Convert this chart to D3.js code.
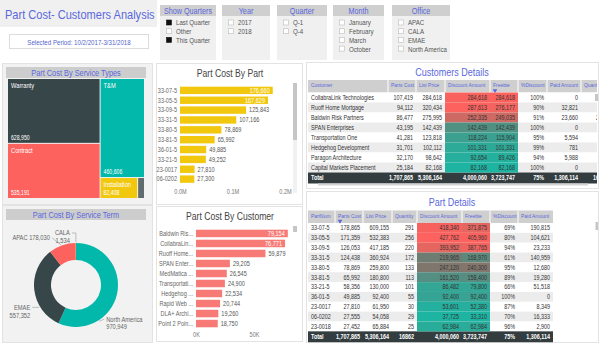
<!DOCTYPE html>
<html>
<head>
<meta charset="utf-8">
<script src="https://cdn.jsdelivr.net/npm/d3@7"></script>
<style>
  body { margin: 0; background: #fff; }
  svg { font-family: "Liberation Sans", Arial, sans-serif; display: block; }
</style>
</head>
<body>
<svg id="dash" width="600" height="343"></svg>
<script>
// ---- slicers ----
const quarterFlags = ["Last Quarter", "Other", "This Quarter"];
const quarterChecked = [true, false, true];
const years = ["2017", "2018"];
const quarters = ["Q-1", "Q-4"];
const months = ["January", "February", "March", "October"];
const offices = ["APAC", "CALA", "EMAE", "North America"];

// ---- part cost by service type (treemap) ----
const serviceTypes = ["Warranty", "Contract", "T&M", "Installation", "Other"];
const serviceCost = [628950, 535191, 460606, 82408, 15000];

// ---- part cost by part ----
const partLabels = ["33-07-5", "33-05-5", "33-09-5", "33-31-5", "33-80-5", "33-81-5", "36-01-5", "33-21-5", "23-0017", "06-0202"];
const partCost = [176660, 167629, 125843, 107166, 78869, 65992, 49885, 49252, 27810, 27300];

// ---- part cost by service term (office) ----
const officeNames = ["North America", "EMAE", "APAC", "CALA"];
const officeCost = [970949, 557352, 178030, 1534];

// ---- part cost by customer ----
const customerLabels = ["Baldwin Ris...", "CollabraLin...", "Ruoff Home...", "SPAN Enter...", "MedMatica ...", "Transportati...", "Hedgehog ...", "Rapid Web ...", "DLA+ Archi...", "Point 2 Poin..."];
const customerCost = [79154, 76771, 59879, 29205, 26545, 24900, 22534, 20744, 19260, 18750];

// ---- customers details ----
const custNames = ["CollabraLink Technologies", "Ruoff Home Mortgage", "Baldwin Risk Partners", "SPAN Enterprises", "Transportation One", "Hedgehog Development", "Paragon Architecture", "Capital Markets Placement"];
const custPartsCost = [107419, 94112, 86477, 43195, 41281, 31701, 32170, 25184];
const custListPrice = [284618, 320434, 275995, 142439, 123818, 102112, 98642, 82168];
const custDiscount = [284618, 287613, 252335, 142439, 118224, 101331, 92654, 82168];
const custFreebie = [284618, 276177, 249035, 142439, 115904, 101331, 89426, 82168];
const custPctDiscount = [1.00, 0.90, 0.91, 1.00, 0.95, 0.99, 0.94, 1.00];
const custPaid = [0, 32821, 23660, 0, 5594, 781, 5988, 0];
const custQty = [512, 474, 2391, 211, 204, 158, 161, 124];

// ---- part details ----
const partNums = ["33-07-5", "33-05-5", "33-09-5", "33-31-5", "33-80-5", "33-81-5", "33-21-5", "36-01-5", "23-0017", "06-0202", "23-0018"];
const pdPartsCost = [178865, 171359, 126053, 124438, 78869, 65992, 58356, 49885, 27810, 27555, 27452];
const pdListPrice = [609155, 532383, 417185, 360924, 259800, 180800, 130000, 92400, 61950, 54058, 65884];
const pdQty = [291, 256, 220, 172, 133, 113, 101, 55, 30, 29, 25];
const pdDiscount = [418340, 427762, 393952, 219965, 247120, 161520, 86482, 92400, 53601, 37725, 62984];
const pdFreebie = [371875, 405960, 387765, 168970, 240300, 158400, 79800, 92400, 52380, 33310, 62984];
const pdPctDiscount = [0.69, 0.80, 0.94, 0.61, 0.95, 0.89, 0.66, 1.00, 0.87, 0.70, 0.96];
const pdPaid = [190815, 104621, 23233, 140959, 12680, 19280, 51518, 0, 8349, 16333, 2900];

// totals shared by both detail tables
const totPartsCost = 1707865, totListPrice = 5306164, totDiscount = 4000060,
      totFreebie = 3723747, totPct = 0.75, totPaid = 1306114, totQty = 16862;

const C = { teal: "#01b8aa", dark: "#374649", coral: "#fd625e", yellow: "#f2c80f", grey: "#5f6b6d" };
const blue = "#5a68dc";
const fmt = d3.format(",");
const pct = d3.format(".0%");
const SX = 0.82;   // horizontal squeeze for the small dashboard text

const svg = d3.select("#dash");

// text squeezed horizontally so it sits like the narrow report font
function txt(parent, x, y, s, size, fill, opts = {}) {
  return parent.append("text")
    .attr("transform", `translate(${x},${y}) scale(${opts.sx || SX},1)`)
    .attr("text-anchor", opts.anchor || "start")
    .attr("font-size", size)
    .attr("font-weight", opts.bold ? "bold" : null)
    .attr("fill", fill)
    .text(s);
}

function panel(x, y, w, h, fill) {
  svg.append("rect").attr("x", x).attr("y", y).attr("width", w).attr("height", h)
    .attr("fill", fill).attr("stroke", "#e3e3e3");
}

function headerBar(x, y, w, label) {
  svg.append("rect").attr("x", x).attr("y", y).attr("width", w).attr("height", 11).attr("fill", "#cdcdcd");
  txt(svg, x + w / 2, y + 8.6, label, 9, blue, { anchor: "middle" });
}

// ---- title block ----
svg.append("rect").attr("x", 0).attr("y", 0).attr("width", 157).attr("height", 27).attr("fill", "#f0f0f0");
txt(svg, 5, 19, "Part Cost- Customers Analysis", 13, blue, { sx: 0.85 });
svg.append("rect").attr("x", 9.5).attr("y", 34.5).attr("width", 139).attr("height", 14)
  .attr("fill", "#fff").attr("stroke", "#dcdcdc");
txt(svg, 79, 44.5, "Selected Period: 10/2/2017-3/31/2018", 7.5, "#5566cc", { anchor: "middle" });

// ---- slicers ----
const slicers = [
  { title: "Show Quarters", items: quarterFlags, checked: quarterChecked, x: 160, w: 56 },
  { title: "Year", items: years, checked: [], x: 222, w: 48 },
  { title: "Quarter", items: quarters, checked: [], x: 277, w: 50 },
  { title: "Month", items: months, checked: [], x: 333, w: 51 },
  { title: "Office", items: offices, checked: [], x: 392, w: 58 }
];
slicers.forEach(s => {
  svg.append("rect").attr("x", s.x).attr("y", 5).attr("width", s.w).attr("height", 55).attr("fill", "#f0f0f0");
  svg.append("rect").attr("x", s.x).attr("y", 5).attr("width", s.w).attr("height", 11).attr("fill", "#cfcfcf");
  txt(svg, s.x + s.w / 2, 13.8, s.title, 8.8, blue, { anchor: "middle" });
  s.items.forEach((it, i) => {
    const cy = 23 + i * 8.7;
    const on = s.checked[i];
    svg.append("rect").attr("x", s.x + 6.5).attr("y", cy - 3).attr("width", 5).attr("height", 5)
      .attr("fill", on ? "#111" : "#fff").attr("stroke", on ? "#111" : "#bbb").attr("stroke-width", 0.6);
    txt(svg, s.x + 16, cy + 2.4, it, 7.5, "#555");
  });
});

// ---- treemap: part cost by service types ----
panel(2.5, 63.5, 150, 141, "#f2f2f2");
headerBar(6, 67, 140, "Part Cost By Service Types");
{
  const root = d3.hierarchy({ children: serviceTypes.map((n, i) => ({ name: n, value: serviceCost[i] })) })
    .sum(d => d.value || 0)
    .sort((a, b) => b.value - a.value);
  d3.treemap().tile(d3.treemapSquarify).size([136, 119]).paddingInner(1)(root);
  const colors = [C.dark, C.coral, C.teal, C.yellow, C.grey];
  const g = svg.append("g").attr("transform", "translate(8,79)");
  root.leaves().forEach(leaf => {
    const w = leaf.x1 - leaf.x0, h = leaf.y1 - leaf.y0;
    g.append("rect").attr("x", leaf.x0).attr("y", leaf.y0).attr("width", w).attr("height", h)
      .attr("fill", colors[serviceTypes.indexOf(leaf.data.name)]);
    if (w > 25 && h > 18) {
      txt(g, leaf.x0 + 3, leaf.y0 + 9, leaf.data.name, 7, "#fff");
      txt(g, leaf.x0 + 3, leaf.y1 - 3, fmt(leaf.data.value), 6.3, "#fff");
    }
  });
}

// ---- horizontal bar helper ----
function hbars(cfg) {
  const y = d3.scaleBand().domain(cfg.labels).range(cfg.yRange).paddingInner(0.25).paddingOuter(0.12);
  const x = d3.scaleLinear().domain(cfg.domain).range(cfg.xRange);
  const inside = d => x(d) - x(0) > cfg.inside;
  const g = svg.append("g");
  g.selectAll("rect.bar").data(cfg.values).join("rect")
    .attr("x", x(0)).attr("y", (d, i) => y(cfg.labels[i]))
    .attr("width", d => x(d) - x(0)).attr("height", y.bandwidth()).attr("fill", cfg.color);
  cfg.labels.forEach((lab, i) => {
    const cy = y(lab) + y.bandwidth() / 2 + 2.3;
    const v = cfg.values[i];
    txt(g, x(0) - 3, cy, lab, 6.8, "#666", { anchor: "end" });
    txt(g, inside(v) ? x(v) - 3 : x(v) + 3, cy, fmt(v), 6.8, inside(v) ? "#fff" : "#555",
      { anchor: inside(v) ? "end" : "start" });
  });
  const axis = d3.axisBottom(x).tickValues(cfg.ticks).tickFormat(cfg.tickFormat).tickSize(0).tickPadding(0);
  const ag = g.append("g").attr("transform", `translate(0,${cfg.axisY})`).call(axis);
  ag.select(".domain").remove();
  ag.selectAll("text").attr("font-size", 6.8).attr("fill", "#777").attr("font-family", null)
    .attr("transform", `scale(${SX},1)`);
}

// part cost by part
panel(156.5, 63.5, 146, 141, "#fff");
txt(svg, 230, 76.5, "Part Cost By Part", 10.5, "#444", { anchor: "middle" });
hbars({
  labels: partLabels, values: partCost, yRange: [85.5, 184], domain: [0, 200000], xRange: [180, 285],
  color: C.yellow, inside: 80, ticks: [0, 100000, 200000], axisY: 189,
  tickFormat: d => d3.format(".1f")(d / 1e6) + "M"
});
svg.append("rect").attr("x", 293).attr("y", 83).attr("width", 4).attr("height", 110).attr("fill", "#f1f1f1");
svg.append("rect").attr("x", 293).attr("y", 83).attr("width", 4).attr("height", 57).attr("fill", "#c6c6c6");

// part cost by customer
panel(156.5, 206.5, 146, 135, "#fff");
txt(svg, 230, 219.5, "Part Cost By Customer", 10.5, "#444", { anchor: "middle" });
hbars({
  labels: customerLabels, values: customerCost, yRange: [228.5, 328.5], domain: [0, 100000], xRange: [196, 312],
  color: "#f87a77", inside: 80, ticks: [0, 50000], axisY: 332,
  tickFormat: d => d3.format(".0f")(d / 1000) + "K"
});
svg.append("rect").attr("x", 293).attr("y", 226).attr("width", 4).attr("height", 6).attr("fill", "#c6c6c6");

// ---- donut: part cost by service term ----
panel(2.5, 205.5, 150, 137, "#f2f2f2");
headerBar(6, 209, 140, "Part Cost By Service Term");
{
  const cx = 76, cy = 285, rOut = 42, rIn = 25;
  const pie = d3.pie().sort(null).value(d => d);
  const arcs = pie(officeCost);
  const arc = d3.arc().innerRadius(rIn).outerRadius(rOut);
  const colors = [C.teal, C.dark, C.coral, C.yellow];
  const g = svg.append("g").attr("transform", `translate(${cx},${cy})`);
  g.selectAll("path").data(arcs).join("path").attr("d", arc).attr("fill", (d, i) => colors[i]);

  // where along each slice the leader line starts, and how the label sits
  const labelAt = [
    { f: 0.72, dx: 5, dy: -2, lines: 2 },
    { f: 0.29, dx: -7, dy: 0, lines: 2 },
    { f: 0.46, dx: -9, dy: -7, lines: 1 },
    { f: 0.5, dx: -4, dy: -9, lines: 2 }
  ];
  arcs.forEach((a, i) => {
    const s = labelAt[i];
    const ang = a.startAngle + (a.endAngle - a.startAngle) * s.f;
    const px = Math.sin(ang) * (rOut + 1), py = -Math.cos(ang) * (rOut + 1);
    const ex = px + s.dx, ey = py + s.dy;
    const pts = i === 3 ? [[px, py], [px, ey], [ex, ey]] : [[px, py], [ex, ey]];
    g.append("polyline").attr("points", pts.map(p => p.join(",")).join(" "))
      .attr("fill", "none").attr("stroke", "#999").attr("stroke-width", 0.6);
    const right = s.dx > 0;
    const tx = ex + (right ? 2 : -2);
    const anchor = right ? "start" : "end";
    if (s.lines === 1) {
      txt(g, tx, ey + 2.4, `${officeNames[i]} ${fmt(officeCost[i])}`, 7, "#666", { anchor });
    } else {
      txt(g, tx, ey + 2.4, officeNames[i], 7, "#666", { anchor });
      txt(g, tx, ey + 10.2, fmt(officeCost[i]), 7, "#666", { anchor });
    }
  });
}

// ---- table helper ----
function heatScale(vals) {
  const lo = d3.min(vals), hi = d3.max(vals);
  return d3.scaleLinear().domain([lo, (lo + hi) / 2, hi]).range(["#1db5a2", "#75786f", "#fd625e"]);
}

function table(cfg) {
  const id = "clip" + cfg.id;
  svg.append("clipPath").attr("id", id).append("rect")
    .attr("x", cfg.clip[0]).attr("y", cfg.clip[1]).attr("width", cfg.clip[2]).attr("height", cfg.clip[3]);
  const g = svg.append("g").attr("clip-path", `url(#${id})`);
  const n = cfg.cols[0].vals.length;
  const x0 = cfg.cols[0].x0, x1 = cfg.cols[cfg.cols.length - 1].x1;
  const rowY = i => cfg.top + cfg.hh + i * cfg.rh;
  const fs = 6.6, hs = 6.2, hsx = 0.8;

  // header
  g.append("rect").attr("x", x0).attr("y", cfg.top).attr("width", x1 - x0).attr("height", cfg.hh).attr("fill", "#cfcfcf");
  // zebra rows
  for (let i = 0; i < n; i++) {
    g.append("rect").attr("x", x0).attr("y", rowY(i)).attr("width", x1 - x0).attr("height", cfg.rh)
      .attr("fill", i % 2 ? "#ececec" : "#fff");
  }
  // total row
  g.append("rect").attr("x", x0).attr("y", rowY(n)).attr("width", x1 - x0).attr("height", cfg.rh + 1).attr("fill", "#333c3e");

  cfg.cols.forEach(c => {
    const w = c.x1 - c.x0;
    const heat = c.heat ? heatScale(c.vals) : null;
    if (c.x0 > x0) {
      g.append("line").attr("x1", c.x0).attr("x2", c.x0).attr("y1", cfg.top).attr("y2", cfg.top + cfg.hh)
        .attr("stroke", "#fff").attr("stroke-width", 1);
    }
    const head = txt(g, c.x0 + 3, cfg.top + 7.2, c.head, hs, blue, { sx: hsx });
    // shorten a header that does not fit its column
    let label = c.head;
    while (!c.noEllipsis && head.node().getComputedTextLength() * hsx > w - 4 && label.length > 3) {
      label = label.slice(0, -1);
      head.text(label + "...");
    }
    if (c.sorted) {
      g.append("path").attr("d", d3.symbol(d3.symbolTriangle, 9)())
        .attr("transform", `translate(${c.x0 + 5},${cfg.top + cfg.hh - 2}) rotate(180)`).attr("fill", blue);
    }
    const tx = c.text ? c.x0 + 3 : c.x1 - 3;
    const anchor = c.text ? "start" : "end";
    c.vals.forEach((v, i) => {
      if (heat) {
        g.append("rect").attr("x", c.x0).attr("y", rowY(i)).attr("width", w).attr("height", cfg.rh).attr("fill", heat(v));
      }
      txt(g, tx, rowY(i) + cfg.rh / 2 + 2.4, c.format ? c.format(v) : v, fs, "#333", { anchor });
    });
    txt(g, tx, rowY(n) + cfg.rh / 2 + 2.9, c.format ? c.format(c.total) : c.total, fs, "#fff", { anchor, bold: true });
  });
}

// customers details
panel(306.5, 62.5, 292, 126, "#fff");
txt(svg, 452, 75.5, "Customers Details", 11, blue, { anchor: "middle" });
table({
  id: "cust", top: 80, hh: 12.5, rh: 10, clip: [306, 62, 291, 126],
  cols: [
    { head: "Customer", x0: 308, x1: 388, vals: custNames, total: "Total", text: true },
    { head: "Parts Cost", x0: 388, x1: 416, vals: custPartsCost, total: totPartsCost, format: fmt },
    { head: "List Price", x0: 416, x1: 445, vals: custListPrice, total: totListPrice, format: fmt },
    { head: "Discount Amount", x0: 445, x1: 490, vals: custDiscount, total: totDiscount, format: fmt, heat: true },
    { head: "Freebie", x0: 490, x1: 518, vals: custFreebie, total: totFreebie, format: fmt, heat: true, sorted: true },
    { head: "%Discount", x0: 518, x1: 547, vals: custPctDiscount, total: totPct, format: pct },
    { head: "Paid Amount", x0: 547, x1: 581, vals: custPaid, total: totPaid, format: fmt },
    { head: "Quantity", x0: 581, x1: 611, vals: custQty, total: totQty, noEllipsis: true }
  ]
});
svg.append("rect").attr("x", 595).attr("y", 94).attr("width", 3).attr("height", 7).attr("fill", "#c6c6c6");
svg.append("rect").attr("x", 318).attr("y", 183.5).attr("width", 270).attr("height", 2).attr("fill", "#d4d4d4");

// part details
panel(306.5, 191.5, 292, 151, "#fff");
txt(svg, 452, 205.5, "Part Details", 11, blue, { anchor: "middle" });
table({
  id: "part", top: 210.5, hh: 12.5, rh: 9.85, clip: [306, 191, 293, 152],
  cols: [
    { head: "PartNum", x0: 308, x1: 335, vals: partNums, total: "Total", text: true },
    { head: "Parts Cost", x0: 335, x1: 363, vals: pdPartsCost, total: totPartsCost, format: fmt, sorted: true },
    { head: "List Price", x0: 363, x1: 392, vals: pdListPrice, total: totListPrice, format: fmt },
    { head: "Quantity", x0: 392, x1: 417, vals: pdQty, total: totQty },
    { head: "Discount Amount", x0: 417, x1: 462, vals: pdDiscount, total: totDiscount, format: fmt, heat: true },
    { head: "Freebie", x0: 462, x1: 490, vals: pdFreebie, total: totFreebie, format: fmt, heat: true },
    { head: "%Discount", x0: 490, x1: 518, vals: pdPctDiscount, total: totPct, format: pct },
    { head: "Paid Amount", x0: 518, x1: 553, vals: pdPaid, total: totPaid, format: fmt }
  ]
});
svg.append("rect").attr("x", 595.5).attr("y", 222).attr("width", 2.5).attr("height", 8).attr("fill", "#c6c6c6");
</script>
</body>
</html>
